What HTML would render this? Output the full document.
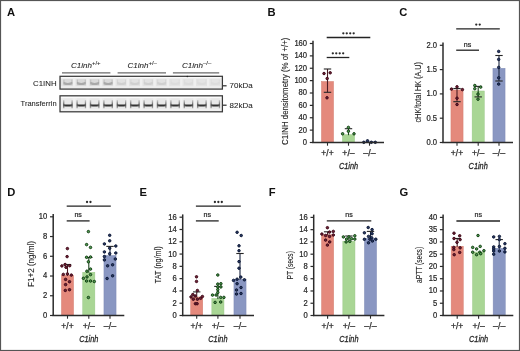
<!DOCTYPE html>
<html><head><meta charset="utf-8"><style>
html,body{margin:0;padding:0;background:#fff;}
body{width:520px;height:351px;overflow:hidden;}
svg{display:block;will-change:transform;font-family:"Liberation Sans", sans-serif;}
</style></head><body>
<svg width="520" height="351" viewBox="0 0 520 351">
<defs><linearGradient id="edgeT" x1="0" y1="0" x2="0" y2="1"><stop offset="0" stop-color="#d2d2d2"/><stop offset="0.62" stop-color="#5a5a5a"/><stop offset="1" stop-color="#b4b4b4"/></linearGradient><linearGradient id="bandT" x1="0" y1="0" x2="1" y2="0"><stop offset="0" stop-color="#555"/><stop offset="0.25" stop-color="#333"/><stop offset="0.75" stop-color="#333"/><stop offset="1" stop-color="#555"/></linearGradient><linearGradient id="bandV" x1="0" y1="0" x2="0" y2="1"><stop offset="0" stop-color="#fff" stop-opacity="0"/><stop offset="1" stop-color="#fff" stop-opacity="0"/></linearGradient><filter id="bl" x="-5%" y="-20%" width="110%" height="140%"><feGaussianBlur stdDeviation="0.45"/></filter></defs>
<rect x="0" y="0" width="520" height="351" fill="#fff"/>
<line x1="313" y1="40.7" x2="313" y2="143.1" stroke="#2b2b2b" stroke-width="1.5"/>
<line x1="309.8" y1="142.5" x2="313" y2="142.5" stroke="#2b2b2b" stroke-width="1.2"/>
<text x="307.1" y="144.95" font-size="8.2" text-anchor="end" font-weight="normal" font-style="normal" fill="#262626" stroke="#262626" stroke-width="0.22" textLength="4.24" lengthAdjust="spacingAndGlyphs">0</text>
<line x1="309.8" y1="130.125" x2="313" y2="130.125" stroke="#2b2b2b" stroke-width="1.2"/>
<text x="307.1" y="132.57" font-size="8.2" text-anchor="end" font-weight="normal" font-style="normal" fill="#262626" stroke="#262626" stroke-width="0.22" textLength="8.48" lengthAdjust="spacingAndGlyphs">20</text>
<line x1="309.8" y1="117.75" x2="313" y2="117.75" stroke="#2b2b2b" stroke-width="1.2"/>
<text x="307.1" y="120.2" font-size="8.2" text-anchor="end" font-weight="normal" font-style="normal" fill="#262626" stroke="#262626" stroke-width="0.22" textLength="8.48" lengthAdjust="spacingAndGlyphs">40</text>
<line x1="309.8" y1="105.375" x2="313" y2="105.375" stroke="#2b2b2b" stroke-width="1.2"/>
<text x="307.1" y="107.83" font-size="8.2" text-anchor="end" font-weight="normal" font-style="normal" fill="#262626" stroke="#262626" stroke-width="0.22" textLength="8.48" lengthAdjust="spacingAndGlyphs">60</text>
<line x1="309.8" y1="93.0" x2="313" y2="93.0" stroke="#2b2b2b" stroke-width="1.2"/>
<text x="307.1" y="95.45" font-size="8.2" text-anchor="end" font-weight="normal" font-style="normal" fill="#262626" stroke="#262626" stroke-width="0.22" textLength="8.48" lengthAdjust="spacingAndGlyphs">80</text>
<line x1="309.8" y1="80.625" x2="313" y2="80.625" stroke="#2b2b2b" stroke-width="1.2"/>
<text x="307.1" y="83.08" font-size="8.2" text-anchor="end" font-weight="normal" font-style="normal" fill="#262626" stroke="#262626" stroke-width="0.22" textLength="12.72" lengthAdjust="spacingAndGlyphs">100</text>
<line x1="309.8" y1="68.25" x2="313" y2="68.25" stroke="#2b2b2b" stroke-width="1.2"/>
<text x="307.1" y="70.7" font-size="8.2" text-anchor="end" font-weight="normal" font-style="normal" fill="#262626" stroke="#262626" stroke-width="0.22" textLength="12.72" lengthAdjust="spacingAndGlyphs">120</text>
<line x1="309.8" y1="55.875" x2="313" y2="55.875" stroke="#2b2b2b" stroke-width="1.2"/>
<text x="307.1" y="58.33" font-size="8.2" text-anchor="end" font-weight="normal" font-style="normal" fill="#262626" stroke="#262626" stroke-width="0.22" textLength="12.72" lengthAdjust="spacingAndGlyphs">140</text>
<line x1="309.8" y1="43.5" x2="313" y2="43.5" stroke="#2b2b2b" stroke-width="1.2"/>
<text x="307.1" y="45.95" font-size="8.2" text-anchor="end" font-weight="normal" font-style="normal" fill="#262626" stroke="#262626" stroke-width="0.22" textLength="12.72" lengthAdjust="spacingAndGlyphs">160</text>
<rect x="321.45" y="81.5" width="12.1" height="61.0" fill="#e4897c" stroke="#d47e70" stroke-width="0.5"/>
<rect x="342.45" y="134.7" width="12.1" height="7.800000000000011" fill="#a9d695" stroke="#9ac787" stroke-width="0.5"/>
<rect x="363.45" y="141.6" width="12.1" height="0.9000000000000057" fill="#8a97c2" stroke="#7f8bb5" stroke-width="0.5"/>
<line x1="327.5" y1="69" x2="327.5" y2="92.3" stroke="#4a1a22" stroke-width="1.1"/>
<line x1="323.8" y1="69" x2="331.2" y2="69" stroke="#262626" stroke-width="1.1"/>
<line x1="323.8" y1="92.3" x2="331.2" y2="92.3" stroke="#262626" stroke-width="1.1"/>
<line x1="348.5" y1="128.7" x2="348.5" y2="135.2" stroke="#1d451d" stroke-width="1.1"/>
<line x1="344.8" y1="128.7" x2="352.2" y2="128.7" stroke="#262626" stroke-width="1.1"/>
<circle cx="324" cy="73.5" r="1.25" fill="#6e2035" stroke="#3a0615" stroke-width="0.95"/>
<circle cx="330.2" cy="72.8" r="1.25" fill="#6e2035" stroke="#3a0615" stroke-width="0.95"/>
<circle cx="327.2" cy="78.5" r="1.25" fill="#6e2035" stroke="#3a0615" stroke-width="0.95"/>
<circle cx="327" cy="97.8" r="1.25" fill="#6e2035" stroke="#3a0615" stroke-width="0.95"/>
<circle cx="342.6" cy="133.8" r="1.25" fill="#4f9a4f" stroke="#0f3a10" stroke-width="0.95"/>
<circle cx="348.4" cy="131.2" r="1.25" fill="#4f9a4f" stroke="#0f3a10" stroke-width="0.95"/>
<circle cx="354" cy="133.8" r="1.25" fill="#4f9a4f" stroke="#0f3a10" stroke-width="0.95"/>
<circle cx="348.4" cy="127.4" r="1.25" fill="#4f9a4f" stroke="#0f3a10" stroke-width="0.95"/>
<circle cx="363.8" cy="142.3" r="1.25" fill="#2a3a68" stroke="#0a1530" stroke-width="0.95"/>
<circle cx="367.5" cy="140.8" r="1.25" fill="#2a3a68" stroke="#0a1530" stroke-width="0.95"/>
<circle cx="371.3" cy="142.3" r="1.25" fill="#2a3a68" stroke="#0a1530" stroke-width="0.95"/>
<circle cx="375.3" cy="142.3" r="1.25" fill="#2a3a68" stroke="#0a1530" stroke-width="0.95"/>
<line x1="312.25" y1="142.5" x2="384.0" y2="142.5" stroke="#2b2b2b" stroke-width="1.5"/>
<line x1="327.5" y1="142.5" x2="327.5" y2="145.7" stroke="#2b2b2b" stroke-width="1.1"/>
<text x="327.5" y="156.2" font-size="8.6" text-anchor="middle" font-weight="normal" font-style="normal" fill="#2a2a2a" stroke="#2a2a2a" stroke-width="0.25" textLength="12.3" lengthAdjust="spacingAndGlyphs">+/+</text>
<line x1="348.5" y1="142.5" x2="348.5" y2="145.7" stroke="#2b2b2b" stroke-width="1.1"/>
<text x="348.5" y="156.2" font-size="8.6" text-anchor="middle" font-weight="normal" font-style="normal" fill="#2a2a2a" stroke="#2a2a2a" stroke-width="0.25" textLength="12.3" lengthAdjust="spacingAndGlyphs">+/–</text>
<line x1="369.5" y1="142.5" x2="369.5" y2="145.7" stroke="#2b2b2b" stroke-width="1.1"/>
<text x="369.5" y="156.2" font-size="8.6" text-anchor="middle" font-weight="normal" font-style="normal" fill="#2a2a2a" stroke="#2a2a2a" stroke-width="0.25" textLength="12.3" lengthAdjust="spacingAndGlyphs">–/–</text>
<text x="348.5" y="168.7" font-size="9.6" text-anchor="middle" font-weight="normal" font-style="italic" fill="#262626" stroke="#262626" stroke-width="0.3" textLength="19.2" lengthAdjust="spacingAndGlyphs">C1inh</text>
<text transform="translate(287.7,91.3) rotate(-90)" x="0" y="0" font-size="8.5" text-anchor="middle" fill="#262626" stroke="#262626" stroke-width="0.12" textLength="107.4" lengthAdjust="spacingAndGlyphs">C1INH densitometry (% of +/+)</text>
<line x1="326.7" y1="37.5" x2="370.3" y2="37.5" stroke="#232323" stroke-width="1.3"/>
<circle cx="343.32" cy="33.3" r="1.15" fill="#2a2a2a"/>
<circle cx="346.77" cy="33.3" r="1.15" fill="#2a2a2a"/>
<circle cx="350.22" cy="33.3" r="1.15" fill="#2a2a2a"/>
<circle cx="353.68" cy="33.3" r="1.15" fill="#2a2a2a"/>
<line x1="326.7" y1="57.5" x2="349.3" y2="57.5" stroke="#232323" stroke-width="1.3"/>
<circle cx="332.82" cy="53.3" r="1.15" fill="#2a2a2a"/>
<circle cx="336.27" cy="53.3" r="1.15" fill="#2a2a2a"/>
<circle cx="339.72" cy="53.3" r="1.15" fill="#2a2a2a"/>
<circle cx="343.18" cy="53.3" r="1.15" fill="#2a2a2a"/>
<line x1="443" y1="42.5" x2="443" y2="143.1" stroke="#2b2b2b" stroke-width="1.5"/>
<line x1="439.8" y1="142.5" x2="443" y2="142.5" stroke="#2b2b2b" stroke-width="1.2"/>
<text x="437.1" y="144.95" font-size="8.2" text-anchor="end" font-weight="normal" font-style="normal" fill="#262626" stroke="#262626" stroke-width="0.22" textLength="10.6" lengthAdjust="spacingAndGlyphs">0.0</text>
<line x1="439.8" y1="118.2" x2="443" y2="118.2" stroke="#2b2b2b" stroke-width="1.2"/>
<text x="437.1" y="120.65" font-size="8.2" text-anchor="end" font-weight="normal" font-style="normal" fill="#262626" stroke="#262626" stroke-width="0.22" textLength="10.6" lengthAdjust="spacingAndGlyphs">0.5</text>
<line x1="439.8" y1="93.9" x2="443" y2="93.9" stroke="#2b2b2b" stroke-width="1.2"/>
<text x="437.1" y="96.35" font-size="8.2" text-anchor="end" font-weight="normal" font-style="normal" fill="#262626" stroke="#262626" stroke-width="0.22" textLength="10.6" lengthAdjust="spacingAndGlyphs">1.0</text>
<line x1="439.8" y1="69.6" x2="443" y2="69.6" stroke="#2b2b2b" stroke-width="1.2"/>
<text x="437.1" y="72.05" font-size="8.2" text-anchor="end" font-weight="normal" font-style="normal" fill="#262626" stroke="#262626" stroke-width="0.22" textLength="10.6" lengthAdjust="spacingAndGlyphs">1.5</text>
<line x1="439.8" y1="45.3" x2="443" y2="45.3" stroke="#2b2b2b" stroke-width="1.2"/>
<text x="437.1" y="47.75" font-size="8.2" text-anchor="end" font-weight="normal" font-style="normal" fill="#262626" stroke="#262626" stroke-width="0.22" textLength="10.6" lengthAdjust="spacingAndGlyphs">2.0</text>
<rect x="450.95" y="90" width="12.1" height="52.5" fill="#e4897c" stroke="#d47e70" stroke-width="0.5"/>
<rect x="472.15" y="91" width="12.1" height="51.5" fill="#a9d695" stroke="#9ac787" stroke-width="0.5"/>
<rect x="492.95" y="68.3" width="12.1" height="74.2" fill="#8a97c2" stroke="#7f8bb5" stroke-width="0.5"/>
<line x1="457" y1="88.5" x2="457" y2="101.7" stroke="#4a1a22" stroke-width="1.1"/>
<line x1="453.3" y1="88.5" x2="460.7" y2="88.5" stroke="#262626" stroke-width="1.1"/>
<line x1="453.3" y1="101.7" x2="460.7" y2="101.7" stroke="#262626" stroke-width="1.1"/>
<line x1="478.2" y1="86.4" x2="478.2" y2="96.9" stroke="#1d451d" stroke-width="1.1"/>
<line x1="474.5" y1="86.4" x2="481.9" y2="86.4" stroke="#262626" stroke-width="1.1"/>
<line x1="474.5" y1="96.9" x2="481.9" y2="96.9" stroke="#262626" stroke-width="1.1"/>
<line x1="499" y1="55.5" x2="499" y2="81" stroke="#18233f" stroke-width="1.1"/>
<line x1="495.3" y1="55.5" x2="502.7" y2="55.5" stroke="#262626" stroke-width="1.1"/>
<line x1="495.3" y1="81" x2="502.7" y2="81" stroke="#262626" stroke-width="1.1"/>
<circle cx="451.5" cy="89.1" r="1.25" fill="#6e2035" stroke="#3a0615" stroke-width="0.95"/>
<circle cx="457" cy="86.8" r="1.25" fill="#6e2035" stroke="#3a0615" stroke-width="0.95"/>
<circle cx="462.4" cy="89.6" r="1.25" fill="#6e2035" stroke="#3a0615" stroke-width="0.95"/>
<circle cx="457" cy="98.2" r="1.25" fill="#6e2035" stroke="#3a0615" stroke-width="0.95"/>
<circle cx="457" cy="104.5" r="1.25" fill="#6e2035" stroke="#3a0615" stroke-width="0.95"/>
<circle cx="474.8" cy="85.5" r="1.25" fill="#4f9a4f" stroke="#0f3a10" stroke-width="0.95"/>
<circle cx="480.7" cy="87.1" r="1.25" fill="#4f9a4f" stroke="#0f3a10" stroke-width="0.95"/>
<circle cx="474.8" cy="88.7" r="1.25" fill="#4f9a4f" stroke="#0f3a10" stroke-width="0.95"/>
<circle cx="478" cy="94.1" r="1.25" fill="#4f9a4f" stroke="#0f3a10" stroke-width="0.95"/>
<circle cx="478" cy="99.2" r="1.25" fill="#4f9a4f" stroke="#0f3a10" stroke-width="0.95"/>
<circle cx="498.7" cy="51.4" r="1.25" fill="#2a3a68" stroke="#0a1530" stroke-width="0.95"/>
<circle cx="498.7" cy="59.4" r="1.25" fill="#2a3a68" stroke="#0a1530" stroke-width="0.95"/>
<circle cx="498.7" cy="67.4" r="1.25" fill="#2a3a68" stroke="#0a1530" stroke-width="0.95"/>
<circle cx="498.7" cy="77.8" r="1.25" fill="#2a3a68" stroke="#0a1530" stroke-width="0.95"/>
<circle cx="498.7" cy="84.1" r="1.25" fill="#2a3a68" stroke="#0a1530" stroke-width="0.95"/>
<line x1="442.25" y1="142.5" x2="513" y2="142.5" stroke="#2b2b2b" stroke-width="1.5"/>
<line x1="457" y1="142.5" x2="457" y2="145.7" stroke="#2b2b2b" stroke-width="1.1"/>
<text x="457" y="156.2" font-size="8.6" text-anchor="middle" font-weight="normal" font-style="normal" fill="#2a2a2a" stroke="#2a2a2a" stroke-width="0.25" textLength="12.3" lengthAdjust="spacingAndGlyphs">+/+</text>
<line x1="478.2" y1="142.5" x2="478.2" y2="145.7" stroke="#2b2b2b" stroke-width="1.1"/>
<text x="478.2" y="156.2" font-size="8.6" text-anchor="middle" font-weight="normal" font-style="normal" fill="#2a2a2a" stroke="#2a2a2a" stroke-width="0.25" textLength="12.3" lengthAdjust="spacingAndGlyphs">+/–</text>
<line x1="499" y1="142.5" x2="499" y2="145.7" stroke="#2b2b2b" stroke-width="1.1"/>
<text x="499" y="156.2" font-size="8.6" text-anchor="middle" font-weight="normal" font-style="normal" fill="#2a2a2a" stroke="#2a2a2a" stroke-width="0.25" textLength="12.3" lengthAdjust="spacingAndGlyphs">–/–</text>
<text x="478.2" y="168.7" font-size="9.6" text-anchor="middle" font-weight="normal" font-style="italic" fill="#262626" stroke="#262626" stroke-width="0.3" textLength="19.2" lengthAdjust="spacingAndGlyphs">C1inh</text>
<text transform="translate(420.5,92.2) rotate(-90)" x="0" y="0" font-size="8.5" text-anchor="middle" fill="#262626" stroke="#262626" stroke-width="0.12" textLength="60.4" lengthAdjust="spacingAndGlyphs">cHK/total HK (A.U)</text>
<line x1="456.2" y1="28.8" x2="499.8" y2="28.8" stroke="#232323" stroke-width="1.3"/>
<circle cx="476.27" cy="24.6" r="1.15" fill="#2a2a2a"/>
<circle cx="479.72" cy="24.6" r="1.15" fill="#2a2a2a"/>
<line x1="456.2" y1="50.2" x2="479.0" y2="50.2" stroke="#232323" stroke-width="1.3"/>
<text x="467.6" y="46.5" font-size="7.6" text-anchor="middle" font-weight="normal" font-style="normal" fill="#262626" stroke="#262626" stroke-width="0.22" textLength="7.5" lengthAdjust="spacingAndGlyphs">ns</text>
<line x1="53.2" y1="214.0" x2="53.2" y2="316.1" stroke="#2b2b2b" stroke-width="1.5"/>
<line x1="50.0" y1="315.5" x2="53.2" y2="315.5" stroke="#2b2b2b" stroke-width="1.2"/>
<text x="47.300000000000004" y="317.95" font-size="8.2" text-anchor="end" font-weight="normal" font-style="normal" fill="#262626" stroke="#262626" stroke-width="0.22" textLength="4.24" lengthAdjust="spacingAndGlyphs">0</text>
<line x1="50.0" y1="295.76" x2="53.2" y2="295.76" stroke="#2b2b2b" stroke-width="1.2"/>
<text x="47.300000000000004" y="298.21" font-size="8.2" text-anchor="end" font-weight="normal" font-style="normal" fill="#262626" stroke="#262626" stroke-width="0.22" textLength="4.24" lengthAdjust="spacingAndGlyphs">2</text>
<line x1="50.0" y1="276.02" x2="53.2" y2="276.02" stroke="#2b2b2b" stroke-width="1.2"/>
<text x="47.300000000000004" y="278.47" font-size="8.2" text-anchor="end" font-weight="normal" font-style="normal" fill="#262626" stroke="#262626" stroke-width="0.22" textLength="4.24" lengthAdjust="spacingAndGlyphs">4</text>
<line x1="50.0" y1="256.28" x2="53.2" y2="256.28" stroke="#2b2b2b" stroke-width="1.2"/>
<text x="47.300000000000004" y="258.73" font-size="8.2" text-anchor="end" font-weight="normal" font-style="normal" fill="#262626" stroke="#262626" stroke-width="0.22" textLength="4.24" lengthAdjust="spacingAndGlyphs">6</text>
<line x1="50.0" y1="236.54000000000002" x2="53.2" y2="236.54000000000002" stroke="#2b2b2b" stroke-width="1.2"/>
<text x="47.300000000000004" y="238.99" font-size="8.2" text-anchor="end" font-weight="normal" font-style="normal" fill="#262626" stroke="#262626" stroke-width="0.22" textLength="4.24" lengthAdjust="spacingAndGlyphs">8</text>
<line x1="50.0" y1="216.8" x2="53.2" y2="216.8" stroke="#2b2b2b" stroke-width="1.2"/>
<text x="47.300000000000004" y="219.25" font-size="8.2" text-anchor="end" font-weight="normal" font-style="normal" fill="#262626" stroke="#262626" stroke-width="0.22" textLength="8.48" lengthAdjust="spacingAndGlyphs">10</text>
<rect x="61.45" y="275.3" width="12.1" height="40.19999999999999" fill="#e4897c" stroke="#d47e70" stroke-width="0.5"/>
<rect x="82.75" y="272.3" width="12.1" height="43.19999999999999" fill="#a9d695" stroke="#9ac787" stroke-width="0.5"/>
<rect x="103.95" y="255.5" width="12.1" height="60.0" fill="#8a97c2" stroke="#7f8bb5" stroke-width="0.5"/>
<line x1="67.5" y1="264.5" x2="67.5" y2="275.8" stroke="#4a1a22" stroke-width="1.1"/>
<line x1="63.8" y1="264.5" x2="71.2" y2="264.5" stroke="#262626" stroke-width="1.1"/>
<line x1="88.8" y1="257.5" x2="88.8" y2="272.8" stroke="#1d451d" stroke-width="1.1"/>
<line x1="85.1" y1="257.5" x2="92.5" y2="257.5" stroke="#262626" stroke-width="1.1"/>
<line x1="110" y1="246.4" x2="110" y2="256.0" stroke="#18233f" stroke-width="1.1"/>
<line x1="106.3" y1="246.4" x2="113.7" y2="246.4" stroke="#262626" stroke-width="1.1"/>
<circle cx="67.4" cy="248.6" r="1.25" fill="#6e2035" stroke="#3a0615" stroke-width="0.95"/>
<circle cx="67.1" cy="256.6" r="1.25" fill="#6e2035" stroke="#3a0615" stroke-width="0.95"/>
<circle cx="61.9" cy="265.9" r="1.25" fill="#6e2035" stroke="#3a0615" stroke-width="0.95"/>
<circle cx="65.1" cy="264.5" r="1.25" fill="#6e2035" stroke="#3a0615" stroke-width="0.95"/>
<circle cx="66" cy="267.3" r="1.25" fill="#6e2035" stroke="#3a0615" stroke-width="0.95"/>
<circle cx="69.7" cy="265.7" r="1.25" fill="#6e2035" stroke="#3a0615" stroke-width="0.95"/>
<circle cx="63.3" cy="274.4" r="1.25" fill="#6e2035" stroke="#3a0615" stroke-width="0.95"/>
<circle cx="67.4" cy="273.9" r="1.25" fill="#6e2035" stroke="#3a0615" stroke-width="0.95"/>
<circle cx="71.3" cy="275.1" r="1.25" fill="#6e2035" stroke="#3a0615" stroke-width="0.95"/>
<circle cx="65.6" cy="279.4" r="1.25" fill="#6e2035" stroke="#3a0615" stroke-width="0.95"/>
<circle cx="69.5" cy="281.7" r="1.25" fill="#6e2035" stroke="#3a0615" stroke-width="0.95"/>
<circle cx="65.6" cy="284.6" r="1.25" fill="#6e2035" stroke="#3a0615" stroke-width="0.95"/>
<circle cx="65.3" cy="290.4" r="1.25" fill="#6e2035" stroke="#3a0615" stroke-width="0.95"/>
<circle cx="69.5" cy="289.7" r="1.25" fill="#6e2035" stroke="#3a0615" stroke-width="0.95"/>
<circle cx="88.4" cy="231.6" r="1.25" fill="#4f9a4f" stroke="#0f3a10" stroke-width="0.95"/>
<circle cx="86.6" cy="244.6" r="1.25" fill="#4f9a4f" stroke="#0f3a10" stroke-width="0.95"/>
<circle cx="90.5" cy="247.4" r="1.25" fill="#4f9a4f" stroke="#0f3a10" stroke-width="0.95"/>
<circle cx="86.6" cy="257.3" r="1.25" fill="#4f9a4f" stroke="#0f3a10" stroke-width="0.95"/>
<circle cx="90.5" cy="257" r="1.25" fill="#4f9a4f" stroke="#0f3a10" stroke-width="0.95"/>
<circle cx="88.4" cy="261.8" r="1.25" fill="#4f9a4f" stroke="#0f3a10" stroke-width="0.95"/>
<circle cx="90.5" cy="269.1" r="1.25" fill="#4f9a4f" stroke="#0f3a10" stroke-width="0.95"/>
<circle cx="86.9" cy="271.2" r="1.25" fill="#4f9a4f" stroke="#0f3a10" stroke-width="0.95"/>
<circle cx="90.5" cy="274.6" r="1.25" fill="#4f9a4f" stroke="#0f3a10" stroke-width="0.95"/>
<circle cx="83.4" cy="278.3" r="1.25" fill="#4f9a4f" stroke="#0f3a10" stroke-width="0.95"/>
<circle cx="87" cy="276.9" r="1.25" fill="#4f9a4f" stroke="#0f3a10" stroke-width="0.95"/>
<circle cx="86.6" cy="281" r="1.25" fill="#4f9a4f" stroke="#0f3a10" stroke-width="0.95"/>
<circle cx="90.5" cy="281" r="1.25" fill="#4f9a4f" stroke="#0f3a10" stroke-width="0.95"/>
<circle cx="94.3" cy="281.5" r="1.25" fill="#4f9a4f" stroke="#0f3a10" stroke-width="0.95"/>
<circle cx="88.4" cy="297.5" r="1.25" fill="#4f9a4f" stroke="#0f3a10" stroke-width="0.95"/>
<circle cx="109.7" cy="235.3" r="1.25" fill="#2a3a68" stroke="#0a1530" stroke-width="0.95"/>
<circle cx="109.7" cy="240.8" r="1.25" fill="#2a3a68" stroke="#0a1530" stroke-width="0.95"/>
<circle cx="104.4" cy="243.9" r="1.25" fill="#2a3a68" stroke="#0a1530" stroke-width="0.95"/>
<circle cx="115.8" cy="246" r="1.25" fill="#2a3a68" stroke="#0a1530" stroke-width="0.95"/>
<circle cx="109.7" cy="248.2" r="1.25" fill="#2a3a68" stroke="#0a1530" stroke-width="0.95"/>
<circle cx="104.4" cy="251.9" r="1.25" fill="#2a3a68" stroke="#0a1530" stroke-width="0.95"/>
<circle cx="109.7" cy="253.7" r="1.25" fill="#2a3a68" stroke="#0a1530" stroke-width="0.95"/>
<circle cx="115.8" cy="253" r="1.25" fill="#2a3a68" stroke="#0a1530" stroke-width="0.95"/>
<circle cx="104.4" cy="256.5" r="1.25" fill="#2a3a68" stroke="#0a1530" stroke-width="0.95"/>
<circle cx="104.4" cy="259.9" r="1.25" fill="#2a3a68" stroke="#0a1530" stroke-width="0.95"/>
<circle cx="115.3" cy="259" r="1.25" fill="#2a3a68" stroke="#0a1530" stroke-width="0.95"/>
<circle cx="107.6" cy="265.8" r="1.25" fill="#2a3a68" stroke="#0a1530" stroke-width="0.95"/>
<circle cx="112.6" cy="264.8" r="1.25" fill="#2a3a68" stroke="#0a1530" stroke-width="0.95"/>
<circle cx="112.6" cy="275.8" r="1.25" fill="#2a3a68" stroke="#0a1530" stroke-width="0.95"/>
<circle cx="107.1" cy="278.5" r="1.25" fill="#2a3a68" stroke="#0a1530" stroke-width="0.95"/>
<line x1="52.45" y1="315.5" x2="124.3" y2="315.5" stroke="#2b2b2b" stroke-width="1.5"/>
<line x1="67.5" y1="315.5" x2="67.5" y2="318.7" stroke="#2b2b2b" stroke-width="1.1"/>
<text x="67.5" y="329.2" font-size="8.6" text-anchor="middle" font-weight="normal" font-style="normal" fill="#2a2a2a" stroke="#2a2a2a" stroke-width="0.25" textLength="12.3" lengthAdjust="spacingAndGlyphs">+/+</text>
<line x1="88.8" y1="315.5" x2="88.8" y2="318.7" stroke="#2b2b2b" stroke-width="1.1"/>
<text x="88.8" y="329.2" font-size="8.6" text-anchor="middle" font-weight="normal" font-style="normal" fill="#2a2a2a" stroke="#2a2a2a" stroke-width="0.25" textLength="12.3" lengthAdjust="spacingAndGlyphs">+/–</text>
<line x1="110" y1="315.5" x2="110" y2="318.7" stroke="#2b2b2b" stroke-width="1.1"/>
<text x="110" y="329.2" font-size="8.6" text-anchor="middle" font-weight="normal" font-style="normal" fill="#2a2a2a" stroke="#2a2a2a" stroke-width="0.25" textLength="12.3" lengthAdjust="spacingAndGlyphs">–/–</text>
<text x="88.8" y="341.7" font-size="9.6" text-anchor="middle" font-weight="normal" font-style="italic" fill="#262626" stroke="#262626" stroke-width="0.3" textLength="19.2" lengthAdjust="spacingAndGlyphs">C1inh</text>
<text transform="translate(33.9,264.0) rotate(-90)" x="0" y="0" font-size="8.5" text-anchor="middle" fill="#262626" stroke="#262626" stroke-width="0.12" textLength="45.9" lengthAdjust="spacingAndGlyphs">F1+2 (ng/ml)</text>
<line x1="66.7" y1="206.2" x2="110.8" y2="206.2" stroke="#232323" stroke-width="1.3"/>
<circle cx="87.03" cy="202.0" r="1.15" fill="#2a2a2a"/>
<circle cx="90.48" cy="202.0" r="1.15" fill="#2a2a2a"/>
<line x1="66.7" y1="220.9" x2="89.6" y2="220.9" stroke="#232323" stroke-width="1.3"/>
<text x="78.15" y="217.20000000000002" font-size="7.6" text-anchor="middle" font-weight="normal" font-style="normal" fill="#262626" stroke="#262626" stroke-width="0.22" textLength="7.5" lengthAdjust="spacingAndGlyphs">ns</text>
<line x1="182.7" y1="214.39999999999998" x2="182.7" y2="316.1" stroke="#2b2b2b" stroke-width="1.5"/>
<line x1="179.5" y1="315.5" x2="182.7" y2="315.5" stroke="#2b2b2b" stroke-width="1.2"/>
<text x="176.79999999999998" y="317.95" font-size="8.2" text-anchor="end" font-weight="normal" font-style="normal" fill="#262626" stroke="#262626" stroke-width="0.22" textLength="4.24" lengthAdjust="spacingAndGlyphs">0</text>
<line x1="179.5" y1="303.2125" x2="182.7" y2="303.2125" stroke="#2b2b2b" stroke-width="1.2"/>
<text x="176.79999999999998" y="305.66" font-size="8.2" text-anchor="end" font-weight="normal" font-style="normal" fill="#262626" stroke="#262626" stroke-width="0.22" textLength="4.24" lengthAdjust="spacingAndGlyphs">2</text>
<line x1="179.5" y1="290.925" x2="182.7" y2="290.925" stroke="#2b2b2b" stroke-width="1.2"/>
<text x="176.79999999999998" y="293.38" font-size="8.2" text-anchor="end" font-weight="normal" font-style="normal" fill="#262626" stroke="#262626" stroke-width="0.22" textLength="4.24" lengthAdjust="spacingAndGlyphs">4</text>
<line x1="179.5" y1="278.6375" x2="182.7" y2="278.6375" stroke="#2b2b2b" stroke-width="1.2"/>
<text x="176.79999999999998" y="281.09" font-size="8.2" text-anchor="end" font-weight="normal" font-style="normal" fill="#262626" stroke="#262626" stroke-width="0.22" textLength="4.24" lengthAdjust="spacingAndGlyphs">6</text>
<line x1="179.5" y1="266.35" x2="182.7" y2="266.35" stroke="#2b2b2b" stroke-width="1.2"/>
<text x="176.79999999999998" y="268.8" font-size="8.2" text-anchor="end" font-weight="normal" font-style="normal" fill="#262626" stroke="#262626" stroke-width="0.22" textLength="4.24" lengthAdjust="spacingAndGlyphs">8</text>
<line x1="179.5" y1="254.0625" x2="182.7" y2="254.0625" stroke="#2b2b2b" stroke-width="1.2"/>
<text x="176.79999999999998" y="256.51" font-size="8.2" text-anchor="end" font-weight="normal" font-style="normal" fill="#262626" stroke="#262626" stroke-width="0.22" textLength="8.48" lengthAdjust="spacingAndGlyphs">10</text>
<line x1="179.5" y1="241.77499999999998" x2="182.7" y2="241.77499999999998" stroke="#2b2b2b" stroke-width="1.2"/>
<text x="176.79999999999998" y="244.22" font-size="8.2" text-anchor="end" font-weight="normal" font-style="normal" fill="#262626" stroke="#262626" stroke-width="0.22" textLength="8.48" lengthAdjust="spacingAndGlyphs">12</text>
<line x1="179.5" y1="229.48749999999998" x2="182.7" y2="229.48749999999998" stroke="#2b2b2b" stroke-width="1.2"/>
<text x="176.79999999999998" y="231.94" font-size="8.2" text-anchor="end" font-weight="normal" font-style="normal" fill="#262626" stroke="#262626" stroke-width="0.22" textLength="8.48" lengthAdjust="spacingAndGlyphs">14</text>
<line x1="179.5" y1="217.2" x2="182.7" y2="217.2" stroke="#2b2b2b" stroke-width="1.2"/>
<text x="176.79999999999998" y="219.65" font-size="8.2" text-anchor="end" font-weight="normal" font-style="normal" fill="#262626" stroke="#262626" stroke-width="0.22" textLength="8.48" lengthAdjust="spacingAndGlyphs">16</text>
<rect x="190.64999999999998" y="297.0" width="12.1" height="18.5" fill="#e4897c" stroke="#d47e70" stroke-width="0.5"/>
<rect x="211.85" y="298.5" width="12.1" height="17.0" fill="#a9d695" stroke="#9ac787" stroke-width="0.5"/>
<rect x="233.95" y="279.2" width="12.1" height="36.30000000000001" fill="#8a97c2" stroke="#7f8bb5" stroke-width="0.5"/>
<line x1="196.7" y1="291.9" x2="196.7" y2="297.5" stroke="#4a1a22" stroke-width="1.1"/>
<line x1="193.0" y1="291.9" x2="200.39999999999998" y2="291.9" stroke="#262626" stroke-width="1.1"/>
<line x1="217.9" y1="286.4" x2="217.9" y2="299.0" stroke="#1d451d" stroke-width="1.1"/>
<line x1="214.20000000000002" y1="286.4" x2="221.6" y2="286.4" stroke="#262626" stroke-width="1.1"/>
<line x1="240" y1="253.5" x2="240" y2="279.7" stroke="#18233f" stroke-width="1.1"/>
<line x1="236.3" y1="253.5" x2="243.7" y2="253.5" stroke="#262626" stroke-width="1.1"/>
<circle cx="196.5" cy="276.8" r="1.25" fill="#6e2035" stroke="#3a0615" stroke-width="0.95"/>
<circle cx="196.5" cy="281.4" r="1.25" fill="#6e2035" stroke="#3a0615" stroke-width="0.95"/>
<circle cx="197.4" cy="290.5" r="1.25" fill="#6e2035" stroke="#3a0615" stroke-width="0.95"/>
<circle cx="192.8" cy="294.6" r="1.25" fill="#6e2035" stroke="#3a0615" stroke-width="0.95"/>
<circle cx="191" cy="296.9" r="1.25" fill="#6e2035" stroke="#3a0615" stroke-width="0.95"/>
<circle cx="195.1" cy="296" r="1.25" fill="#6e2035" stroke="#3a0615" stroke-width="0.95"/>
<circle cx="202.4" cy="296.5" r="1.25" fill="#6e2035" stroke="#3a0615" stroke-width="0.95"/>
<circle cx="197.4" cy="299.2" r="1.25" fill="#6e2035" stroke="#3a0615" stroke-width="0.95"/>
<circle cx="200.6" cy="298.3" r="1.25" fill="#6e2035" stroke="#3a0615" stroke-width="0.95"/>
<circle cx="193.3" cy="299.2" r="1.25" fill="#6e2035" stroke="#3a0615" stroke-width="0.95"/>
<circle cx="195.4" cy="303.7" r="1.25" fill="#6e2035" stroke="#3a0615" stroke-width="0.95"/>
<circle cx="197.1" cy="303.7" r="1.25" fill="#6e2035" stroke="#3a0615" stroke-width="0.95"/>
<circle cx="217.8" cy="275" r="1.25" fill="#4f9a4f" stroke="#0f3a10" stroke-width="0.95"/>
<circle cx="217.8" cy="284.1" r="1.25" fill="#4f9a4f" stroke="#0f3a10" stroke-width="0.95"/>
<circle cx="220.9" cy="283.7" r="1.25" fill="#4f9a4f" stroke="#0f3a10" stroke-width="0.95"/>
<circle cx="217.8" cy="286.9" r="1.25" fill="#4f9a4f" stroke="#0f3a10" stroke-width="0.95"/>
<circle cx="220.9" cy="286.9" r="1.25" fill="#4f9a4f" stroke="#0f3a10" stroke-width="0.95"/>
<circle cx="217.8" cy="289.6" r="1.25" fill="#4f9a4f" stroke="#0f3a10" stroke-width="0.95"/>
<circle cx="217.8" cy="292.4" r="1.25" fill="#4f9a4f" stroke="#0f3a10" stroke-width="0.95"/>
<circle cx="212.5" cy="295.1" r="1.25" fill="#4f9a4f" stroke="#0f3a10" stroke-width="0.95"/>
<circle cx="216.1" cy="295" r="1.25" fill="#4f9a4f" stroke="#0f3a10" stroke-width="0.95"/>
<circle cx="220.7" cy="297.4" r="1.25" fill="#4f9a4f" stroke="#0f3a10" stroke-width="0.95"/>
<circle cx="223.9" cy="297.4" r="1.25" fill="#4f9a4f" stroke="#0f3a10" stroke-width="0.95"/>
<circle cx="215.1" cy="302.4" r="1.25" fill="#4f9a4f" stroke="#0f3a10" stroke-width="0.95"/>
<circle cx="220.7" cy="302" r="1.25" fill="#4f9a4f" stroke="#0f3a10" stroke-width="0.95"/>
<circle cx="237.1" cy="232.3" r="1.25" fill="#2a3a68" stroke="#0a1530" stroke-width="0.95"/>
<circle cx="241.2" cy="235.5" r="1.25" fill="#2a3a68" stroke="#0a1530" stroke-width="0.95"/>
<circle cx="239" cy="245.8" r="1.25" fill="#2a3a68" stroke="#0a1530" stroke-width="0.95"/>
<circle cx="239" cy="250.7" r="1.25" fill="#2a3a68" stroke="#0a1530" stroke-width="0.95"/>
<circle cx="239" cy="261.6" r="1.25" fill="#2a3a68" stroke="#0a1530" stroke-width="0.95"/>
<circle cx="239" cy="268.2" r="1.25" fill="#2a3a68" stroke="#0a1530" stroke-width="0.95"/>
<circle cx="240.8" cy="277.1" r="1.25" fill="#2a3a68" stroke="#0a1530" stroke-width="0.95"/>
<circle cx="237.1" cy="279.2" r="1.25" fill="#2a3a68" stroke="#0a1530" stroke-width="0.95"/>
<circle cx="233.5" cy="280.4" r="1.25" fill="#2a3a68" stroke="#0a1530" stroke-width="0.95"/>
<circle cx="244.4" cy="279.8" r="1.25" fill="#2a3a68" stroke="#0a1530" stroke-width="0.95"/>
<circle cx="237.1" cy="283.7" r="1.25" fill="#2a3a68" stroke="#0a1530" stroke-width="0.95"/>
<circle cx="241" cy="287.5" r="1.25" fill="#2a3a68" stroke="#0a1530" stroke-width="0.95"/>
<circle cx="236.5" cy="290" r="1.25" fill="#2a3a68" stroke="#0a1530" stroke-width="0.95"/>
<circle cx="236.5" cy="294" r="1.25" fill="#2a3a68" stroke="#0a1530" stroke-width="0.95"/>
<circle cx="241" cy="293.5" r="1.25" fill="#2a3a68" stroke="#0a1530" stroke-width="0.95"/>
<line x1="181.95" y1="315.5" x2="254.0" y2="315.5" stroke="#2b2b2b" stroke-width="1.5"/>
<line x1="196.7" y1="315.5" x2="196.7" y2="318.7" stroke="#2b2b2b" stroke-width="1.1"/>
<text x="196.7" y="329.2" font-size="8.6" text-anchor="middle" font-weight="normal" font-style="normal" fill="#2a2a2a" stroke="#2a2a2a" stroke-width="0.25" textLength="12.3" lengthAdjust="spacingAndGlyphs">+/+</text>
<line x1="217.9" y1="315.5" x2="217.9" y2="318.7" stroke="#2b2b2b" stroke-width="1.1"/>
<text x="217.9" y="329.2" font-size="8.6" text-anchor="middle" font-weight="normal" font-style="normal" fill="#2a2a2a" stroke="#2a2a2a" stroke-width="0.25" textLength="12.3" lengthAdjust="spacingAndGlyphs">+/–</text>
<line x1="240" y1="315.5" x2="240" y2="318.7" stroke="#2b2b2b" stroke-width="1.1"/>
<text x="240" y="329.2" font-size="8.6" text-anchor="middle" font-weight="normal" font-style="normal" fill="#2a2a2a" stroke="#2a2a2a" stroke-width="0.25" textLength="12.3" lengthAdjust="spacingAndGlyphs">–/–</text>
<text x="217.9" y="341.7" font-size="9.6" text-anchor="middle" font-weight="normal" font-style="italic" fill="#262626" stroke="#262626" stroke-width="0.3" textLength="19.2" lengthAdjust="spacingAndGlyphs">C1inh</text>
<text transform="translate(161.2,264.8) rotate(-90)" x="0" y="0" font-size="8.5" text-anchor="middle" fill="#262626" stroke="#262626" stroke-width="0.12" textLength="36.8" lengthAdjust="spacingAndGlyphs">TAT (ng/ml)</text>
<line x1="195.89999999999998" y1="206.2" x2="240.8" y2="206.2" stroke="#232323" stroke-width="1.3"/>
<circle cx="214.90" cy="202.0" r="1.15" fill="#2a2a2a"/>
<circle cx="218.35" cy="202.0" r="1.15" fill="#2a2a2a"/>
<circle cx="221.80" cy="202.0" r="1.15" fill="#2a2a2a"/>
<line x1="195.89999999999998" y1="220.9" x2="218.70000000000002" y2="220.9" stroke="#232323" stroke-width="1.3"/>
<text x="207.3" y="217.20000000000002" font-size="7.6" text-anchor="middle" font-weight="normal" font-style="normal" fill="#262626" stroke="#262626" stroke-width="0.22" textLength="7.5" lengthAdjust="spacingAndGlyphs">ns</text>
<line x1="313.7" y1="214.6" x2="313.7" y2="316.1" stroke="#2b2b2b" stroke-width="1.5"/>
<line x1="310.5" y1="315.5" x2="313.7" y2="315.5" stroke="#2b2b2b" stroke-width="1.2"/>
<text x="307.8" y="317.95" font-size="8.2" text-anchor="end" font-weight="normal" font-style="normal" fill="#262626" stroke="#262626" stroke-width="0.22" textLength="4.24" lengthAdjust="spacingAndGlyphs">0</text>
<line x1="310.5" y1="303.2375" x2="313.7" y2="303.2375" stroke="#2b2b2b" stroke-width="1.2"/>
<text x="307.8" y="305.69" font-size="8.2" text-anchor="end" font-weight="normal" font-style="normal" fill="#262626" stroke="#262626" stroke-width="0.22" textLength="4.24" lengthAdjust="spacingAndGlyphs">2</text>
<line x1="310.5" y1="290.975" x2="313.7" y2="290.975" stroke="#2b2b2b" stroke-width="1.2"/>
<text x="307.8" y="293.43" font-size="8.2" text-anchor="end" font-weight="normal" font-style="normal" fill="#262626" stroke="#262626" stroke-width="0.22" textLength="4.24" lengthAdjust="spacingAndGlyphs">4</text>
<line x1="310.5" y1="278.7125" x2="313.7" y2="278.7125" stroke="#2b2b2b" stroke-width="1.2"/>
<text x="307.8" y="281.16" font-size="8.2" text-anchor="end" font-weight="normal" font-style="normal" fill="#262626" stroke="#262626" stroke-width="0.22" textLength="4.24" lengthAdjust="spacingAndGlyphs">6</text>
<line x1="310.5" y1="266.45" x2="313.7" y2="266.45" stroke="#2b2b2b" stroke-width="1.2"/>
<text x="307.8" y="268.9" font-size="8.2" text-anchor="end" font-weight="normal" font-style="normal" fill="#262626" stroke="#262626" stroke-width="0.22" textLength="4.24" lengthAdjust="spacingAndGlyphs">8</text>
<line x1="310.5" y1="254.1875" x2="313.7" y2="254.1875" stroke="#2b2b2b" stroke-width="1.2"/>
<text x="307.8" y="256.64" font-size="8.2" text-anchor="end" font-weight="normal" font-style="normal" fill="#262626" stroke="#262626" stroke-width="0.22" textLength="8.48" lengthAdjust="spacingAndGlyphs">10</text>
<line x1="310.5" y1="241.925" x2="313.7" y2="241.925" stroke="#2b2b2b" stroke-width="1.2"/>
<text x="307.8" y="244.38" font-size="8.2" text-anchor="end" font-weight="normal" font-style="normal" fill="#262626" stroke="#262626" stroke-width="0.22" textLength="8.48" lengthAdjust="spacingAndGlyphs">12</text>
<line x1="310.5" y1="229.66250000000002" x2="313.7" y2="229.66250000000002" stroke="#2b2b2b" stroke-width="1.2"/>
<text x="307.8" y="232.11" font-size="8.2" text-anchor="end" font-weight="normal" font-style="normal" fill="#262626" stroke="#262626" stroke-width="0.22" textLength="8.48" lengthAdjust="spacingAndGlyphs">14</text>
<line x1="310.5" y1="217.4" x2="313.7" y2="217.4" stroke="#2b2b2b" stroke-width="1.2"/>
<text x="307.8" y="219.85" font-size="8.2" text-anchor="end" font-weight="normal" font-style="normal" fill="#262626" stroke="#262626" stroke-width="0.22" textLength="8.48" lengthAdjust="spacingAndGlyphs">16</text>
<rect x="321.55" y="234.8" width="12.1" height="80.69999999999999" fill="#e4897c" stroke="#d47e70" stroke-width="0.5"/>
<rect x="342.84999999999997" y="241.2" width="12.1" height="74.30000000000001" fill="#a9d695" stroke="#9ac787" stroke-width="0.5"/>
<rect x="364.45" y="238.3" width="12.1" height="77.19999999999999" fill="#8a97c2" stroke="#7f8bb5" stroke-width="0.5"/>
<line x1="327.6" y1="231.8" x2="327.6" y2="235.3" stroke="#4a1a22" stroke-width="1.1"/>
<line x1="323.90000000000003" y1="231.8" x2="331.3" y2="231.8" stroke="#262626" stroke-width="1.1"/>
<line x1="348.9" y1="236" x2="348.9" y2="241.7" stroke="#1d451d" stroke-width="1.1"/>
<line x1="345.2" y1="236" x2="352.59999999999997" y2="236" stroke="#262626" stroke-width="1.1"/>
<line x1="370.5" y1="231.4" x2="370.5" y2="238.8" stroke="#18233f" stroke-width="1.1"/>
<line x1="366.8" y1="231.4" x2="374.2" y2="231.4" stroke="#262626" stroke-width="1.1"/>
<circle cx="327.4" cy="227.7" r="1.25" fill="#6e2035" stroke="#3a0615" stroke-width="0.95"/>
<circle cx="329.5" cy="232.1" r="1.25" fill="#6e2035" stroke="#3a0615" stroke-width="0.95"/>
<circle cx="333.3" cy="231.4" r="1.25" fill="#6e2035" stroke="#3a0615" stroke-width="0.95"/>
<circle cx="321.9" cy="234.1" r="1.25" fill="#6e2035" stroke="#3a0615" stroke-width="0.95"/>
<circle cx="325.6" cy="235.5" r="1.25" fill="#6e2035" stroke="#3a0615" stroke-width="0.95"/>
<circle cx="329.5" cy="236.4" r="1.25" fill="#6e2035" stroke="#3a0615" stroke-width="0.95"/>
<circle cx="333.3" cy="235" r="1.25" fill="#6e2035" stroke="#3a0615" stroke-width="0.95"/>
<circle cx="325.6" cy="240.1" r="1.25" fill="#6e2035" stroke="#3a0615" stroke-width="0.95"/>
<circle cx="329.7" cy="241.9" r="1.25" fill="#6e2035" stroke="#3a0615" stroke-width="0.95"/>
<circle cx="327.4" cy="245.1" r="1.25" fill="#6e2035" stroke="#3a0615" stroke-width="0.95"/>
<circle cx="343.4" cy="236.9" r="1.25" fill="#4f9a4f" stroke="#0f3a10" stroke-width="0.95"/>
<circle cx="348.9" cy="236.9" r="1.25" fill="#4f9a4f" stroke="#0f3a10" stroke-width="0.95"/>
<circle cx="354.8" cy="235.8" r="1.25" fill="#4f9a4f" stroke="#0f3a10" stroke-width="0.95"/>
<circle cx="346.6" cy="239.1" r="1.25" fill="#4f9a4f" stroke="#0f3a10" stroke-width="0.95"/>
<circle cx="351.6" cy="238.7" r="1.25" fill="#4f9a4f" stroke="#0f3a10" stroke-width="0.95"/>
<circle cx="354.8" cy="239.1" r="1.25" fill="#4f9a4f" stroke="#0f3a10" stroke-width="0.95"/>
<circle cx="346.1" cy="241.9" r="1.25" fill="#4f9a4f" stroke="#0f3a10" stroke-width="0.95"/>
<circle cx="349.8" cy="241.4" r="1.25" fill="#4f9a4f" stroke="#0f3a10" stroke-width="0.95"/>
<circle cx="368.2" cy="227.5" r="1.25" fill="#2a3a68" stroke="#0a1530" stroke-width="0.95"/>
<circle cx="372.1" cy="229.6" r="1.25" fill="#2a3a68" stroke="#0a1530" stroke-width="0.95"/>
<circle cx="364.4" cy="232.8" r="1.25" fill="#2a3a68" stroke="#0a1530" stroke-width="0.95"/>
<circle cx="372.1" cy="233.7" r="1.25" fill="#2a3a68" stroke="#0a1530" stroke-width="0.95"/>
<circle cx="368.5" cy="236.4" r="1.25" fill="#2a3a68" stroke="#0a1530" stroke-width="0.95"/>
<circle cx="371.7" cy="237.8" r="1.25" fill="#2a3a68" stroke="#0a1530" stroke-width="0.95"/>
<circle cx="364.4" cy="239.3" r="1.25" fill="#2a3a68" stroke="#0a1530" stroke-width="0.95"/>
<circle cx="375.8" cy="239.2" r="1.25" fill="#2a3a68" stroke="#0a1530" stroke-width="0.95"/>
<circle cx="369.9" cy="239.2" r="1.25" fill="#2a3a68" stroke="#0a1530" stroke-width="0.95"/>
<circle cx="372.4" cy="241" r="1.25" fill="#2a3a68" stroke="#0a1530" stroke-width="0.95"/>
<circle cx="368.5" cy="242.8" r="1.25" fill="#2a3a68" stroke="#0a1530" stroke-width="0.95"/>
<line x1="312.95" y1="315.5" x2="384.40000000000003" y2="315.5" stroke="#2b2b2b" stroke-width="1.5"/>
<line x1="327.6" y1="315.5" x2="327.6" y2="318.7" stroke="#2b2b2b" stroke-width="1.1"/>
<text x="327.6" y="329.2" font-size="8.6" text-anchor="middle" font-weight="normal" font-style="normal" fill="#2a2a2a" stroke="#2a2a2a" stroke-width="0.25" textLength="12.3" lengthAdjust="spacingAndGlyphs">+/+</text>
<line x1="348.9" y1="315.5" x2="348.9" y2="318.7" stroke="#2b2b2b" stroke-width="1.1"/>
<text x="348.9" y="329.2" font-size="8.6" text-anchor="middle" font-weight="normal" font-style="normal" fill="#2a2a2a" stroke="#2a2a2a" stroke-width="0.25" textLength="12.3" lengthAdjust="spacingAndGlyphs">+/–</text>
<line x1="370.5" y1="315.5" x2="370.5" y2="318.7" stroke="#2b2b2b" stroke-width="1.1"/>
<text x="370.5" y="329.2" font-size="8.6" text-anchor="middle" font-weight="normal" font-style="normal" fill="#2a2a2a" stroke="#2a2a2a" stroke-width="0.25" textLength="12.3" lengthAdjust="spacingAndGlyphs">–/–</text>
<text x="348.9" y="341.7" font-size="9.6" text-anchor="middle" font-weight="normal" font-style="italic" fill="#262626" stroke="#262626" stroke-width="0.3" textLength="19.2" lengthAdjust="spacingAndGlyphs">C1inh</text>
<text transform="translate(292.6,265.3) rotate(-90)" x="0" y="0" font-size="8.5" text-anchor="middle" fill="#262626" stroke="#262626" stroke-width="0.12" textLength="28.3" lengthAdjust="spacingAndGlyphs">PT (secs)</text>
<line x1="326.8" y1="220.8" x2="371.3" y2="220.8" stroke="#232323" stroke-width="1.3"/>
<text x="349.05" y="217.10000000000002" font-size="7.6" text-anchor="middle" font-weight="normal" font-style="normal" fill="#262626" stroke="#262626" stroke-width="0.22" textLength="7.5" lengthAdjust="spacingAndGlyphs">ns</text>
<line x1="443.1" y1="214.6" x2="443.1" y2="316.1" stroke="#2b2b2b" stroke-width="1.5"/>
<line x1="439.90000000000003" y1="315.5" x2="443.1" y2="315.5" stroke="#2b2b2b" stroke-width="1.2"/>
<text x="437.20000000000005" y="317.95" font-size="8.2" text-anchor="end" font-weight="normal" font-style="normal" fill="#262626" stroke="#262626" stroke-width="0.22" textLength="4.24" lengthAdjust="spacingAndGlyphs">0</text>
<line x1="439.90000000000003" y1="303.2375" x2="443.1" y2="303.2375" stroke="#2b2b2b" stroke-width="1.2"/>
<text x="437.20000000000005" y="305.69" font-size="8.2" text-anchor="end" font-weight="normal" font-style="normal" fill="#262626" stroke="#262626" stroke-width="0.22" textLength="4.24" lengthAdjust="spacingAndGlyphs">5</text>
<line x1="439.90000000000003" y1="290.975" x2="443.1" y2="290.975" stroke="#2b2b2b" stroke-width="1.2"/>
<text x="437.20000000000005" y="293.43" font-size="8.2" text-anchor="end" font-weight="normal" font-style="normal" fill="#262626" stroke="#262626" stroke-width="0.22" textLength="8.48" lengthAdjust="spacingAndGlyphs">10</text>
<line x1="439.90000000000003" y1="278.7125" x2="443.1" y2="278.7125" stroke="#2b2b2b" stroke-width="1.2"/>
<text x="437.20000000000005" y="281.16" font-size="8.2" text-anchor="end" font-weight="normal" font-style="normal" fill="#262626" stroke="#262626" stroke-width="0.22" textLength="8.48" lengthAdjust="spacingAndGlyphs">15</text>
<line x1="439.90000000000003" y1="266.45" x2="443.1" y2="266.45" stroke="#2b2b2b" stroke-width="1.2"/>
<text x="437.20000000000005" y="268.9" font-size="8.2" text-anchor="end" font-weight="normal" font-style="normal" fill="#262626" stroke="#262626" stroke-width="0.22" textLength="8.48" lengthAdjust="spacingAndGlyphs">20</text>
<line x1="439.90000000000003" y1="254.1875" x2="443.1" y2="254.1875" stroke="#2b2b2b" stroke-width="1.2"/>
<text x="437.20000000000005" y="256.64" font-size="8.2" text-anchor="end" font-weight="normal" font-style="normal" fill="#262626" stroke="#262626" stroke-width="0.22" textLength="8.48" lengthAdjust="spacingAndGlyphs">25</text>
<line x1="439.90000000000003" y1="241.925" x2="443.1" y2="241.925" stroke="#2b2b2b" stroke-width="1.2"/>
<text x="437.20000000000005" y="244.38" font-size="8.2" text-anchor="end" font-weight="normal" font-style="normal" fill="#262626" stroke="#262626" stroke-width="0.22" textLength="8.48" lengthAdjust="spacingAndGlyphs">30</text>
<line x1="439.90000000000003" y1="229.66250000000002" x2="443.1" y2="229.66250000000002" stroke="#2b2b2b" stroke-width="1.2"/>
<text x="437.20000000000005" y="232.11" font-size="8.2" text-anchor="end" font-weight="normal" font-style="normal" fill="#262626" stroke="#262626" stroke-width="0.22" textLength="8.48" lengthAdjust="spacingAndGlyphs">35</text>
<line x1="439.90000000000003" y1="217.4" x2="443.1" y2="217.4" stroke="#2b2b2b" stroke-width="1.2"/>
<text x="437.20000000000005" y="219.85" font-size="8.2" text-anchor="end" font-weight="normal" font-style="normal" fill="#262626" stroke="#262626" stroke-width="0.22" textLength="8.48" lengthAdjust="spacingAndGlyphs">40</text>
<rect x="451.15" y="246.3" width="12.1" height="69.19999999999999" fill="#e4897c" stroke="#d47e70" stroke-width="0.5"/>
<rect x="472.55" y="252" width="12.1" height="63.5" fill="#a9d695" stroke="#9ac787" stroke-width="0.5"/>
<rect x="493.15" y="248.3" width="12.1" height="67.19999999999999" fill="#8a97c2" stroke="#7f8bb5" stroke-width="0.5"/>
<line x1="457.2" y1="238.5" x2="457.2" y2="246.8" stroke="#4a1a22" stroke-width="1.1"/>
<line x1="453.5" y1="238.5" x2="460.9" y2="238.5" stroke="#262626" stroke-width="1.1"/>
<line x1="499.2" y1="239.6" x2="499.2" y2="248.8" stroke="#18233f" stroke-width="1.1"/>
<line x1="495.5" y1="239.6" x2="502.9" y2="239.6" stroke="#262626" stroke-width="1.1"/>
<circle cx="454" cy="233.2" r="1.25" fill="#6e2035" stroke="#3a0615" stroke-width="0.95"/>
<circle cx="459.7" cy="235.8" r="1.25" fill="#6e2035" stroke="#3a0615" stroke-width="0.95"/>
<circle cx="454" cy="238.5" r="1.25" fill="#6e2035" stroke="#3a0615" stroke-width="0.95"/>
<circle cx="460.1" cy="239.6" r="1.25" fill="#6e2035" stroke="#3a0615" stroke-width="0.95"/>
<circle cx="457" cy="242.3" r="1.25" fill="#6e2035" stroke="#3a0615" stroke-width="0.95"/>
<circle cx="453.8" cy="247.4" r="1.25" fill="#6e2035" stroke="#3a0615" stroke-width="0.95"/>
<circle cx="460.1" cy="247.8" r="1.25" fill="#6e2035" stroke="#3a0615" stroke-width="0.95"/>
<circle cx="453.8" cy="249.6" r="1.25" fill="#6e2035" stroke="#3a0615" stroke-width="0.95"/>
<circle cx="459.7" cy="252.4" r="1.25" fill="#6e2035" stroke="#3a0615" stroke-width="0.95"/>
<circle cx="454.2" cy="254.7" r="1.25" fill="#6e2035" stroke="#3a0615" stroke-width="0.95"/>
<circle cx="478" cy="235.5" r="1.25" fill="#4f9a4f" stroke="#0f3a10" stroke-width="0.95"/>
<circle cx="472.7" cy="247.4" r="1.25" fill="#4f9a4f" stroke="#0f3a10" stroke-width="0.95"/>
<circle cx="476.6" cy="248.9" r="1.25" fill="#4f9a4f" stroke="#0f3a10" stroke-width="0.95"/>
<circle cx="480.2" cy="246.4" r="1.25" fill="#4f9a4f" stroke="#0f3a10" stroke-width="0.95"/>
<circle cx="483.9" cy="250.7" r="1.25" fill="#4f9a4f" stroke="#0f3a10" stroke-width="0.95"/>
<circle cx="472.7" cy="252.2" r="1.25" fill="#4f9a4f" stroke="#0f3a10" stroke-width="0.95"/>
<circle cx="479.8" cy="252.2" r="1.25" fill="#4f9a4f" stroke="#0f3a10" stroke-width="0.95"/>
<circle cx="476.6" cy="254.7" r="1.25" fill="#4f9a4f" stroke="#0f3a10" stroke-width="0.95"/>
<circle cx="480.7" cy="253.7" r="1.25" fill="#4f9a4f" stroke="#0f3a10" stroke-width="0.95"/>
<circle cx="493.7" cy="236.9" r="1.25" fill="#2a3a68" stroke="#0a1530" stroke-width="0.95"/>
<circle cx="499.4" cy="236.4" r="1.25" fill="#2a3a68" stroke="#0a1530" stroke-width="0.95"/>
<circle cx="499.4" cy="239.6" r="1.25" fill="#2a3a68" stroke="#0a1530" stroke-width="0.95"/>
<circle cx="504.9" cy="243.7" r="1.25" fill="#2a3a68" stroke="#0a1530" stroke-width="0.95"/>
<circle cx="499.4" cy="246.4" r="1.25" fill="#2a3a68" stroke="#0a1530" stroke-width="0.95"/>
<circle cx="493.7" cy="246.9" r="1.25" fill="#2a3a68" stroke="#0a1530" stroke-width="0.95"/>
<circle cx="493.7" cy="248.9" r="1.25" fill="#2a3a68" stroke="#0a1530" stroke-width="0.95"/>
<circle cx="504.9" cy="248.3" r="1.25" fill="#2a3a68" stroke="#0a1530" stroke-width="0.95"/>
<circle cx="499.4" cy="251" r="1.25" fill="#2a3a68" stroke="#0a1530" stroke-width="0.95"/>
<circle cx="493.7" cy="251" r="1.25" fill="#2a3a68" stroke="#0a1530" stroke-width="0.95"/>
<circle cx="504.9" cy="251.9" r="1.25" fill="#2a3a68" stroke="#0a1530" stroke-width="0.95"/>
<circle cx="493.7" cy="254.2" r="1.25" fill="#2a3a68" stroke="#0a1530" stroke-width="0.95"/>
<line x1="442.35" y1="315.5" x2="513.3" y2="315.5" stroke="#2b2b2b" stroke-width="1.5"/>
<line x1="457.2" y1="315.5" x2="457.2" y2="318.7" stroke="#2b2b2b" stroke-width="1.1"/>
<text x="457.2" y="329.2" font-size="8.6" text-anchor="middle" font-weight="normal" font-style="normal" fill="#2a2a2a" stroke="#2a2a2a" stroke-width="0.25" textLength="12.3" lengthAdjust="spacingAndGlyphs">+/+</text>
<line x1="478.6" y1="315.5" x2="478.6" y2="318.7" stroke="#2b2b2b" stroke-width="1.1"/>
<text x="478.6" y="329.2" font-size="8.6" text-anchor="middle" font-weight="normal" font-style="normal" fill="#2a2a2a" stroke="#2a2a2a" stroke-width="0.25" textLength="12.3" lengthAdjust="spacingAndGlyphs">+/–</text>
<line x1="499.2" y1="315.5" x2="499.2" y2="318.7" stroke="#2b2b2b" stroke-width="1.1"/>
<text x="499.2" y="329.2" font-size="8.6" text-anchor="middle" font-weight="normal" font-style="normal" fill="#2a2a2a" stroke="#2a2a2a" stroke-width="0.25" textLength="12.3" lengthAdjust="spacingAndGlyphs">–/–</text>
<text x="478.6" y="341.7" font-size="9.6" text-anchor="middle" font-weight="normal" font-style="italic" fill="#262626" stroke="#262626" stroke-width="0.3" textLength="19.2" lengthAdjust="spacingAndGlyphs">C1inh</text>
<text transform="translate(422.3,264.9) rotate(-90)" x="0" y="0" font-size="8.5" text-anchor="middle" fill="#262626" stroke="#262626" stroke-width="0.12" textLength="36.1" lengthAdjust="spacingAndGlyphs">aPTT (secs)</text>
<line x1="456.4" y1="221" x2="500.0" y2="221" stroke="#232323" stroke-width="1.3"/>
<text x="478.2" y="217.3" font-size="7.6" text-anchor="middle" font-weight="normal" font-style="normal" fill="#262626" stroke="#262626" stroke-width="0.22" textLength="7.5" lengthAdjust="spacingAndGlyphs">ns</text>
<text x="7.0" y="16.2" font-size="11.2" text-anchor="start" font-weight="bold" font-style="normal" fill="#111">A</text>
<text x="267.6" y="16.2" font-size="11.2" text-anchor="start" font-weight="bold" font-style="normal" fill="#111">B</text>
<text x="399.3" y="16.3" font-size="11.2" text-anchor="start" font-weight="bold" font-style="normal" fill="#111">C</text>
<text x="7.3" y="195.8" font-size="11.2" text-anchor="start" font-weight="bold" font-style="normal" fill="#111">D</text>
<text x="139.4" y="195.8" font-size="11.2" text-anchor="start" font-weight="bold" font-style="normal" fill="#111">E</text>
<text x="268.8" y="195.8" font-size="11.2" text-anchor="start" font-weight="bold" font-style="normal" fill="#111">F</text>
<text x="399.4" y="195.8" font-size="11.2" text-anchor="start" font-weight="bold" font-style="normal" fill="#111">G</text>
<text x="71" y="68" font-size="8" font-style="italic" fill="#262626" stroke="#262626" stroke-width="0.08">C1inh<tspan font-size="6" dy="-3.3" font-style="normal">+/+</tspan></text>
<text x="127.5" y="68" font-size="8" font-style="italic" fill="#262626" stroke="#262626" stroke-width="0.08">C1inh<tspan font-size="6" dy="-3.3" font-style="normal">+/–</tspan></text>
<text x="182.1" y="68" font-size="8" font-style="italic" fill="#262626" stroke="#262626" stroke-width="0.08">C1inh<tspan font-size="6" dy="-3.3" font-style="normal">–/–</tspan></text>
<line x1="62" y1="72.8" x2="110.4" y2="72.8" stroke="#6b6b6b" stroke-width="1.3"/>
<line x1="117.6" y1="72.8" x2="166" y2="72.8" stroke="#6b6b6b" stroke-width="1.3"/>
<line x1="172.9" y1="72.8" x2="219.2" y2="72.8" stroke="#6b6b6b" stroke-width="1.3"/>
<text x="56.6" y="85.6" font-size="7.8" text-anchor="end" font-weight="normal" font-style="normal" fill="#262626" stroke="#262626" stroke-width="0.08" textLength="23.5" lengthAdjust="spacingAndGlyphs">C1INH</text>
<text x="56.6" y="106.3" font-size="7.6" text-anchor="end" font-weight="normal" font-style="normal" fill="#262626" stroke="#262626" stroke-width="0.08" textLength="36" lengthAdjust="spacingAndGlyphs">Transferrin</text>
<text x="229.6" y="88.2" font-size="8.1" text-anchor="start" font-weight="normal" font-style="normal" fill="#262626" stroke="#262626" stroke-width="0.08" textLength="23" lengthAdjust="spacingAndGlyphs">70kDa</text>
<text x="229.6" y="107.7" font-size="8.1" text-anchor="start" font-weight="normal" font-style="normal" fill="#262626" stroke="#262626" stroke-width="0.08" textLength="23" lengthAdjust="spacingAndGlyphs">82kDa</text>
<line x1="222.4" y1="85.8" x2="226.6" y2="85.8" stroke="#2b2b2b" stroke-width="1.2"/>
<line x1="222.4" y1="105.2" x2="226.6" y2="105.2" stroke="#2b2b2b" stroke-width="1.2"/>
<rect x="60" y="76.3" width="162.4" height="12.8" fill="#e3e3e3"/>
<rect x="60.6" y="76.9" width="161.2" height="1.6" fill="#fafafa"/>
<rect x="60.6" y="87.4" width="161.2" height="1.2" fill="#f7f7f7"/>
<rect x="60.6" y="85.8" width="161.2" height="1.6" fill="#ececec"/>
<g filter="url(#bl)">
<rect x="63.30" y="79" width="9.2" height="7" fill="#dadada"/>
<rect x="63.40" y="79.6" width="1.1" height="5" fill="#c0c0c0"/>
<rect x="71.30" y="79.6" width="1.1" height="5" fill="#c0c0c0"/>
<path d="M63.50,81.8 Q67.90,84 72.30,81.8 L72.30,84.2 Q67.90,86 63.50,84.2 Z" fill="#a9a9a9"/>
<rect x="73.00" y="78.5" width="2.4" height="8.4" fill="#efefef"/>
<rect x="76.70" y="79" width="9.2" height="7" fill="#dadada"/>
<rect x="76.80" y="79.6" width="1.1" height="5" fill="#c0c0c0"/>
<rect x="84.70" y="79.6" width="1.1" height="5" fill="#c0c0c0"/>
<path d="M76.90,81.8 Q81.30,84 85.70,81.8 L85.70,84.2 Q81.30,86 76.90,84.2 Z" fill="#a9a9a9"/>
<rect x="86.40" y="78.5" width="2.4" height="8.4" fill="#efefef"/>
<rect x="90.10" y="79" width="9.2" height="7" fill="#dadada"/>
<rect x="90.20" y="79.6" width="1.1" height="5" fill="#c0c0c0"/>
<rect x="98.10" y="79.6" width="1.1" height="5" fill="#c0c0c0"/>
<path d="M90.30,81.8 Q94.70,84 99.10,81.8 L99.10,84.2 Q94.70,86 90.30,84.2 Z" fill="#a9a9a9"/>
<rect x="99.80" y="78.5" width="2.4" height="8.4" fill="#efefef"/>
<rect x="103.50" y="79" width="9.2" height="7" fill="#dadada"/>
<rect x="103.60" y="79.6" width="1.1" height="5" fill="#c0c0c0"/>
<rect x="111.50" y="79.6" width="1.1" height="5" fill="#c0c0c0"/>
<path d="M103.70,81.8 Q108.10,84 112.50,81.8 L112.50,84.2 Q108.10,86 103.70,84.2 Z" fill="#a9a9a9"/>
<rect x="113.20" y="78.5" width="2.4" height="8.4" fill="#efefef"/>
<rect x="116.90" y="79" width="9.2" height="7" fill="#e2e2e2"/>
<rect x="117.00" y="79.6" width="1.1" height="5" fill="#d6d6d6"/>
<rect x="124.90" y="79.6" width="1.1" height="5" fill="#d6d6d6"/>
<path d="M117.10,81.8 Q121.50,84 125.90,81.8 L125.90,84.2 Q121.50,86 117.10,84.2 Z" fill="#d0d0d0"/>
<rect x="126.60" y="78.5" width="2.4" height="8.4" fill="#efefef"/>
<rect x="130.30" y="79" width="9.2" height="7" fill="#e2e2e2"/>
<rect x="130.40" y="79.6" width="1.1" height="5" fill="#d6d6d6"/>
<rect x="138.30" y="79.6" width="1.1" height="5" fill="#d6d6d6"/>
<path d="M130.50,81.8 Q134.90,84 139.30,81.8 L139.30,84.2 Q134.90,86 130.50,84.2 Z" fill="#d0d0d0"/>
<rect x="140.00" y="78.5" width="2.4" height="8.4" fill="#efefef"/>
<rect x="143.70" y="79" width="9.2" height="7" fill="#e2e2e2"/>
<rect x="143.80" y="79.6" width="1.1" height="5" fill="#d6d6d6"/>
<rect x="151.70" y="79.6" width="1.1" height="5" fill="#d6d6d6"/>
<path d="M143.90,81.8 Q148.30,84 152.70,81.8 L152.70,84.2 Q148.30,86 143.90,84.2 Z" fill="#d0d0d0"/>
<rect x="153.40" y="78.5" width="2.4" height="8.4" fill="#efefef"/>
<rect x="157.10" y="79" width="9.2" height="7" fill="#e2e2e2"/>
<rect x="157.20" y="79.6" width="1.1" height="5" fill="#d6d6d6"/>
<rect x="165.10" y="79.6" width="1.1" height="5" fill="#d6d6d6"/>
<path d="M157.30,81.8 Q161.70,84 166.10,81.8 L166.10,84.2 Q161.70,86 157.30,84.2 Z" fill="#d0d0d0"/>
<rect x="166.80" y="78.5" width="2.4" height="8.4" fill="#efefef"/>
<rect x="170.50" y="79" width="9.2" height="7" fill="#e4e4e4"/>
<rect x="170.60" y="79.6" width="1.1" height="5" fill="#dedede"/>
<rect x="178.50" y="79.6" width="1.1" height="5" fill="#dedede"/>
<path d="M170.70,81.8 Q175.10,84 179.50,81.8 L179.50,84.2 Q175.10,86 170.70,84.2 Z" fill="#dcdcdc"/>
<rect x="180.20" y="78.5" width="2.4" height="8.4" fill="#efefef"/>
<rect x="183.90" y="79" width="9.2" height="7" fill="#e4e4e4"/>
<rect x="184.00" y="79.6" width="1.1" height="5" fill="#dedede"/>
<rect x="191.90" y="79.6" width="1.1" height="5" fill="#dedede"/>
<path d="M184.10,81.8 Q188.50,84 192.90,81.8 L192.90,84.2 Q188.50,86 184.10,84.2 Z" fill="#dcdcdc"/>
<rect x="193.60" y="78.5" width="2.4" height="8.4" fill="#efefef"/>
<rect x="197.30" y="79" width="9.2" height="7" fill="#e4e4e4"/>
<rect x="197.40" y="79.6" width="1.1" height="5" fill="#dedede"/>
<rect x="205.30" y="79.6" width="1.1" height="5" fill="#dedede"/>
<path d="M197.50,81.8 Q201.90,84 206.30,81.8 L206.30,84.2 Q201.90,86 197.50,84.2 Z" fill="#dcdcdc"/>
<rect x="207.00" y="78.5" width="2.4" height="8.4" fill="#efefef"/>
<rect x="210.70" y="79" width="9.2" height="7" fill="#e4e4e4"/>
<rect x="210.80" y="79.6" width="1.1" height="5" fill="#dedede"/>
<rect x="218.70" y="79.6" width="1.1" height="5" fill="#dedede"/>
<path d="M210.90,81.8 Q215.30,84 219.70,81.8 L219.70,84.2 Q215.30,86 210.90,84.2 Z" fill="#dcdcdc"/>
<rect x="220.40" y="78.5" width="2.4" height="8.4" fill="#efefef"/>
</g>
<rect x="60" y="76.3" width="162.4" height="12.8" fill="none" stroke="#3a3a3a" stroke-width="1.25"/>
<circle cx="187.3" cy="76.5" r="0.8" fill="#222"/>
<rect x="60" y="95.8" width="162.4" height="16" fill="#ececec"/>
<rect x="60.6" y="96.4" width="161.2" height="1.7" fill="#fafafa"/>
<rect x="60.6" y="109" width="161.2" height="2.3" fill="#f0f0f0"/>
<g filter="url(#bl)">
<rect x="63.50" y="98.4" width="8.8" height="10.2" fill="#e8e8e8"/>
<rect x="63.00" y="100" width="1.4" height="8.3" fill="url(#edgeT)"/>
<rect x="71.40" y="100" width="1.4" height="8.3" fill="url(#edgeT)"/>
<path d="M63.70,104.2 Q67.90,104.8 72.10,104.2 L72.10,106.2 Q67.90,106.6 63.70,106.2 Z" fill="url(#bandT)"/>
<rect x="73.10" y="98.2" width="2.2" height="10.8" fill="#f2f2f2"/>
<rect x="76.90" y="98.4" width="8.8" height="10.2" fill="#e8e8e8"/>
<rect x="76.40" y="100" width="1.4" height="8.3" fill="url(#edgeT)"/>
<rect x="84.80" y="100" width="1.4" height="8.3" fill="url(#edgeT)"/>
<path d="M77.10,104.2 Q81.30,104.8 85.50,104.2 L85.50,106.2 Q81.30,106.6 77.10,106.2 Z" fill="url(#bandT)"/>
<rect x="86.50" y="98.2" width="2.2" height="10.8" fill="#f2f2f2"/>
<rect x="90.30" y="98.4" width="8.8" height="10.2" fill="#e8e8e8"/>
<rect x="89.80" y="100" width="1.4" height="8.3" fill="url(#edgeT)"/>
<rect x="98.20" y="100" width="1.4" height="8.3" fill="url(#edgeT)"/>
<path d="M90.50,104.2 Q94.70,104.8 98.90,104.2 L98.90,106.2 Q94.70,106.6 90.50,106.2 Z" fill="url(#bandT)"/>
<rect x="99.90" y="98.2" width="2.2" height="10.8" fill="#f2f2f2"/>
<rect x="103.70" y="98.4" width="8.8" height="10.2" fill="#e8e8e8"/>
<rect x="103.20" y="100" width="1.4" height="8.3" fill="url(#edgeT)"/>
<rect x="111.60" y="100" width="1.4" height="8.3" fill="url(#edgeT)"/>
<path d="M103.90,104.2 Q108.10,104.8 112.30,104.2 L112.30,106.2 Q108.10,106.6 103.90,106.2 Z" fill="url(#bandT)"/>
<rect x="113.30" y="98.2" width="2.2" height="10.8" fill="#f2f2f2"/>
<rect x="117.10" y="98.4" width="8.8" height="10.2" fill="#e8e8e8"/>
<rect x="116.60" y="100" width="1.4" height="8.3" fill="url(#edgeT)"/>
<rect x="125.00" y="100" width="1.4" height="8.3" fill="url(#edgeT)"/>
<path d="M117.30,104.2 Q121.50,104.8 125.70,104.2 L125.70,106.2 Q121.50,106.6 117.30,106.2 Z" fill="url(#bandT)"/>
<rect x="126.70" y="98.2" width="2.2" height="10.8" fill="#f2f2f2"/>
<rect x="130.50" y="98.4" width="8.8" height="10.2" fill="#e8e8e8"/>
<rect x="130.00" y="100" width="1.4" height="8.3" fill="url(#edgeT)"/>
<rect x="138.40" y="100" width="1.4" height="8.3" fill="url(#edgeT)"/>
<path d="M130.70,104.2 Q134.90,104.8 139.10,104.2 L139.10,106.2 Q134.90,106.6 130.70,106.2 Z" fill="url(#bandT)"/>
<rect x="140.10" y="98.2" width="2.2" height="10.8" fill="#f2f2f2"/>
<rect x="143.90" y="98.4" width="8.8" height="10.2" fill="#e8e8e8"/>
<rect x="143.40" y="100" width="1.4" height="8.3" fill="url(#edgeT)"/>
<rect x="151.80" y="100" width="1.4" height="8.3" fill="url(#edgeT)"/>
<path d="M144.10,104.2 Q148.30,104.8 152.50,104.2 L152.50,106.2 Q148.30,106.6 144.10,106.2 Z" fill="url(#bandT)"/>
<rect x="153.50" y="98.2" width="2.2" height="10.8" fill="#f2f2f2"/>
<rect x="157.30" y="98.4" width="8.8" height="10.2" fill="#e8e8e8"/>
<rect x="156.80" y="100" width="1.4" height="8.3" fill="url(#edgeT)"/>
<rect x="165.20" y="100" width="1.4" height="8.3" fill="url(#edgeT)"/>
<path d="M157.50,104.2 Q161.70,104.8 165.90,104.2 L165.90,106.2 Q161.70,106.6 157.50,106.2 Z" fill="url(#bandT)"/>
<rect x="166.90" y="98.2" width="2.2" height="10.8" fill="#f2f2f2"/>
<rect x="170.70" y="98.4" width="8.8" height="10.2" fill="#e8e8e8"/>
<rect x="170.20" y="100" width="1.4" height="8.3" fill="url(#edgeT)"/>
<rect x="178.60" y="100" width="1.4" height="8.3" fill="url(#edgeT)"/>
<path d="M170.90,104.2 Q175.10,104.8 179.30,104.2 L179.30,106.2 Q175.10,106.6 170.90,106.2 Z" fill="url(#bandT)"/>
<rect x="180.30" y="98.2" width="2.2" height="10.8" fill="#f2f2f2"/>
<rect x="184.10" y="98.4" width="8.8" height="10.2" fill="#e8e8e8"/>
<rect x="183.60" y="100" width="1.4" height="8.3" fill="url(#edgeT)"/>
<rect x="192.00" y="100" width="1.4" height="8.3" fill="url(#edgeT)"/>
<path d="M184.30,104.2 Q188.50,104.8 192.70,104.2 L192.70,106.2 Q188.50,106.6 184.30,106.2 Z" fill="url(#bandT)"/>
<rect x="193.70" y="98.2" width="2.2" height="10.8" fill="#f2f2f2"/>
<rect x="197.50" y="98.4" width="8.8" height="10.2" fill="#e8e8e8"/>
<rect x="197.00" y="100" width="1.4" height="8.3" fill="url(#edgeT)"/>
<rect x="205.40" y="100" width="1.4" height="8.3" fill="url(#edgeT)"/>
<path d="M197.70,104.2 Q201.90,104.8 206.10,104.2 L206.10,106.2 Q201.90,106.6 197.70,106.2 Z" fill="url(#bandT)"/>
<rect x="207.10" y="98.2" width="2.2" height="10.8" fill="#f2f2f2"/>
<rect x="210.90" y="98.4" width="8.8" height="10.2" fill="#e8e8e8"/>
<rect x="210.40" y="100" width="1.4" height="8.3" fill="url(#edgeT)"/>
<rect x="218.80" y="100" width="1.4" height="8.3" fill="url(#edgeT)"/>
<path d="M211.10,104.2 Q215.30,104.8 219.50,104.2 L219.50,106.2 Q215.30,106.6 211.10,106.2 Z" fill="url(#bandT)"/>
<rect x="220.50" y="98.2" width="2.2" height="10.8" fill="#f2f2f2"/>
</g>
<rect x="60" y="95.8" width="162.4" height="16" fill="none" stroke="#3a3a3a" stroke-width="1.25"/>
<rect x="0.5" y="0.5" width="519" height="350" fill="none" stroke="#555" stroke-width="1.2"/>
</svg>
</body></html>
